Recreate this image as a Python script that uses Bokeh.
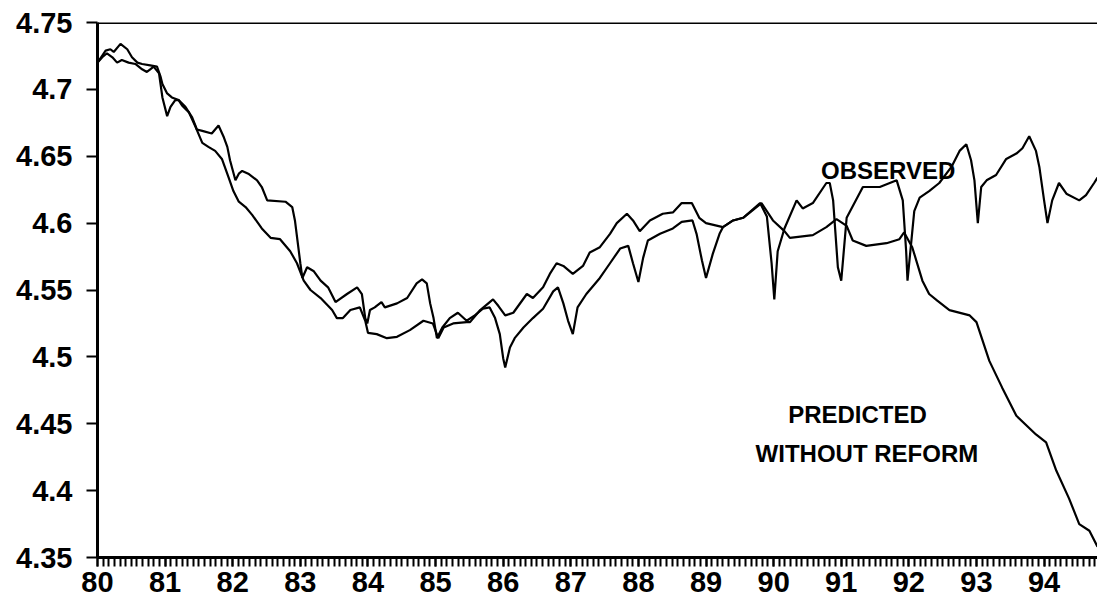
from bokeh.plotting import figure
from bokeh.models import Range1d, FixedTicker, Span, ColumnDataSource, Label
from bokeh.embed import file_html
from bokeh.resources import INLINE

# ---- data (decimal years, 80 = 1980) ----
obs_t = [80.00, 80.07, 80.14, 80.22, 80.29, 80.36, 80.46, 80.56, 80.66, 80.73, 80.78, 80.83, 80.91, 80.96,
         81.03, 81.08, 81.15, 81.20, 81.30, 81.40, 81.47, 81.55, 81.69, 81.79, 81.87, 81.92, 81.96,
         82.04, 82.09, 82.14, 82.23, 82.36, 82.43, 82.51, 82.78, 82.88, 82.92, 82.97, 83.00,
         83.03, 83.10, 83.20, 83.30, 83.41, 83.47, 83.52, 83.69, 83.84, 83.91, 83.96, 83.99,
         84.03, 84.10, 84.20, 84.25, 84.43, 84.58, 84.72, 84.80, 84.87, 84.92, 84.97,
         85.02, 85.10, 85.21, 85.33, 85.46, 85.58, 85.70, 85.80, 85.88, 85.95, 86.00,
         86.03, 86.10, 86.17, 86.30, 86.44, 86.59, 86.74, 86.81, 86.89, 86.96,
         87.03, 87.10, 87.23, 87.43, 87.58, 87.73, 87.85, 87.92,
         88.00, 88.07, 88.14, 88.32, 88.51, 88.64, 88.80, 88.86, 88.94,
         89.00, 89.10, 89.20, 89.25, 89.40, 89.55, 89.80, 89.90, 89.97,
         90.01, 90.06, 90.16, 90.34, 90.43, 90.58, 90.78, 90.83, 90.88, 90.95,
         91.00, 91.08, 91.32, 91.57, 91.82, 91.91, 91.96,
         91.98, 92.08, 92.16, 92.30, 92.45, 92.63, 92.75, 92.85, 92.92, 92.97,
         93.02, 93.07, 93.15, 93.29, 93.44, 93.59, 93.68, 93.78, 93.88, 93.93,
         94.00, 94.05, 94.12, 94.22, 94.33, 94.52, 94.62, 94.74, 94.79]
obs_v = [4.720, 4.724, 4.727, 4.724, 4.720, 4.722, 4.720, 4.719, 4.715, 4.713, 4.715, 4.717, 4.712, 4.694,
         4.680, 4.687, 4.692, 4.692, 4.687, 4.679, 4.670, 4.669, 4.667, 4.673, 4.664, 4.657, 4.647,
         4.632, 4.637, 4.639, 4.637, 4.632, 4.627, 4.617, 4.616, 4.612, 4.602, 4.582, 4.570,
         4.559, 4.567, 4.564, 4.557, 4.552, 4.546, 4.541, 4.547, 4.552, 4.547, 4.529, 4.525,
         4.535, 4.537, 4.541, 4.537, 4.540, 4.544, 4.555, 4.558, 4.555, 4.540, 4.529,
         4.514, 4.522, 4.529, 4.533, 4.527, 4.531, 4.536, 4.537, 4.529, 4.517, 4.499,
         4.492, 4.507, 4.514, 4.522, 4.529, 4.536, 4.549, 4.552, 4.540, 4.527,
         4.517, 4.537, 4.547, 4.559, 4.570, 4.581, 4.583, 4.570,
         4.556, 4.574, 4.587, 4.592, 4.596, 4.601, 4.602, 4.592, 4.572,
         4.559, 4.577, 4.592, 4.597, 4.602, 4.604, 4.615, 4.605, 4.570,
         4.543, 4.579, 4.596, 4.617, 4.611, 4.615, 4.630, 4.630, 4.617, 4.567,
         4.557, 4.604, 4.627, 4.627, 4.632, 4.617, 4.579,
         4.557, 4.609, 4.619, 4.624, 4.630, 4.642, 4.654, 4.659, 4.647, 4.632,
         4.600, 4.627, 4.632, 4.636, 4.648, 4.652, 4.656, 4.665, 4.654, 4.642,
         4.617, 4.600, 4.617, 4.630, 4.622, 4.617, 4.621, 4.630, 4.634]

pred_t = [80.00, 80.12, 80.19, 80.24, 80.34, 80.44, 80.51, 80.59, 80.66, 80.78, 80.88, 80.93, 80.96,
          81.03, 81.10, 81.20, 81.25, 81.35, 81.45, 81.55, 81.64, 81.74, 81.84, 81.94,
          82.01, 82.09, 82.19, 82.29, 82.43, 82.56, 82.70, 82.85, 82.95,
          83.05, 83.15, 83.30, 83.47, 83.54, 83.63, 83.74, 83.88, 83.96,
          84.00, 84.13, 84.28, 84.43, 84.62, 84.82, 84.96,
          85.04, 85.12, 85.26, 85.46, 85.51, 85.66, 85.85, 85.93,
          86.03, 86.15, 86.35, 86.44, 86.59, 86.69, 86.79, 86.89,
          87.03, 87.18, 87.28, 87.43, 87.58, 87.68, 87.83, 87.92,
          88.02, 88.17, 88.36, 88.51, 88.64, 88.79, 88.90,
          89.00, 89.25, 89.40, 89.55, 89.82, 89.99,
          90.16, 90.24, 90.58, 90.78, 90.93,
          91.08, 91.17, 91.37, 91.67, 91.86, 91.93,
          92.05, 92.20, 92.30, 92.42, 92.60, 92.90,
          93.00, 93.19, 93.38, 93.59, 93.88,
          94.03, 94.18, 94.37, 94.52, 94.67, 94.79]
pred_v = [4.720, 4.729, 4.730, 4.728, 4.734, 4.730, 4.724, 4.720, 4.719, 4.718, 4.717, 4.710, 4.704,
          4.697, 4.694, 4.692, 4.688, 4.683, 4.672, 4.660, 4.657, 4.654, 4.648, 4.634,
          4.624, 4.616, 4.612, 4.606, 4.596, 4.589, 4.588, 4.579, 4.570,
          4.557, 4.550, 4.544, 4.535, 4.529, 4.529, 4.535, 4.537, 4.527,
          4.518, 4.517, 4.514, 4.515, 4.520, 4.527, 4.525,
          4.514, 4.522, 4.525, 4.526, 4.526, 4.535, 4.543, 4.538,
          4.531, 4.533, 4.547, 4.544, 4.552, 4.562, 4.570, 4.568,
          4.562, 4.568, 4.578, 4.582, 4.592, 4.600, 4.607, 4.602,
          4.594, 4.602, 4.607, 4.608, 4.615, 4.615, 4.604,
          4.600, 4.597, 4.602, 4.604, 4.615, 4.602,
          4.594, 4.589, 4.591, 4.597, 4.603,
          4.598, 4.587, 4.583, 4.585, 4.588, 4.593,
          4.582, 4.557, 4.547, 4.542, 4.535, 4.531,
          4.526, 4.497, 4.477, 4.456, 4.442,
          4.436, 4.415, 4.394, 4.375, 4.370, 4.358]

x_tick_values = list(range(80, 95))
x_tick_labels = [str(v) for v in x_tick_values]
y_tick_values = [4.35, 4.40, 4.45, 4.50, 4.55, 4.60, 4.65, 4.70, 4.75]
y_tick_labels = ["4.35", "4.4", "4.45", "4.5", "4.55", "4.6", "4.65", "4.7", "4.75"]
month_ticks = [80 + m / 12 for m in range(0, 15 * 12)]

FONT = "Liberation Sans"

p = figure(width=1097, height=608,
           x_range=Range1d(80, 94.79), y_range=Range1d(4.35, 4.75),
           output_backend="svg", toolbar_location=None,
           min_border_left=97, min_border_right=0, min_border_top=22, min_border_bottom=51)
p.background_fill_color = "white"
p.border_fill_color = "white"
p.outline_line_color = None
p.xgrid.visible = False
p.ygrid.visible = False

src_obs = ColumnDataSource(dict(t=obs_t, v=obs_v))
src_pred = ColumnDataSource(dict(t=pred_t, v=pred_v))
p.line("t", "v", source=src_obs, line_color="black", line_width=2.2)
p.line("t", "v", source=src_pred, line_color="black", line_width=2.2)

# top border line
p.add_layout(Span(location=4.75, dimension="width", line_color="black", line_width=3))

# y axis
p.yaxis.ticker = FixedTicker(ticks=y_tick_values)
p.yaxis.major_label_overrides = {v: l for v, l in zip(y_tick_values, y_tick_labels)}
p.yaxis.axis_line_width = 3
p.yaxis.major_tick_line_width = 2
p.yaxis.major_tick_out = 11
p.yaxis.major_tick_in = 0
p.yaxis.minor_tick_line_color = None
p.yaxis.major_label_standoff = 14
p.yaxis.major_label_text_font = FONT
p.yaxis.major_label_text_font_style = "bold"
p.yaxis.major_label_text_font_size = "29px"
p.yaxis.major_label_text_color = "black"

# x axis
p.xaxis.ticker = FixedTicker(ticks=x_tick_values, minor_ticks=month_ticks)
p.xaxis.major_label_overrides = {v: l for v, l in zip(x_tick_values, x_tick_labels)}
p.xaxis.axis_line_width = 3
p.xaxis.major_tick_line_width = 2
p.xaxis.major_tick_out = 9
p.xaxis.major_tick_in = 0
p.xaxis.minor_tick_line_width = 2
p.xaxis.minor_tick_line_color = "black"
p.xaxis.minor_tick_out = 9
p.xaxis.minor_tick_in = 0
p.xaxis.major_label_standoff = 5
p.xaxis.major_label_text_font = FONT
p.xaxis.major_label_text_font_style = "bold"
p.xaxis.major_label_text_font_size = "29px"
p.xaxis.major_label_text_color = "black"

# annotations
p.add_layout(Label(x=90.70, y=4.639, text="OBSERVED", text_font=FONT, text_font_style="bold",
                   text_font_size="24px", text_align="left", text_baseline="middle", text_color="black"))
p.add_layout(Label(x=91.24, y=4.457, text="PREDICTED", text_font=FONT, text_font_style="bold",
                   text_font_size="24px", text_align="center", text_baseline="middle", text_color="black"))
p.add_layout(Label(x=91.38, y=4.428, text="WITHOUT REFORM", text_font=FONT, text_font_style="bold",
                   text_font_size="24px", text_align="center", text_baseline="middle", text_color="black"))

open("out.html", "w").write(file_html(p, INLINE))
